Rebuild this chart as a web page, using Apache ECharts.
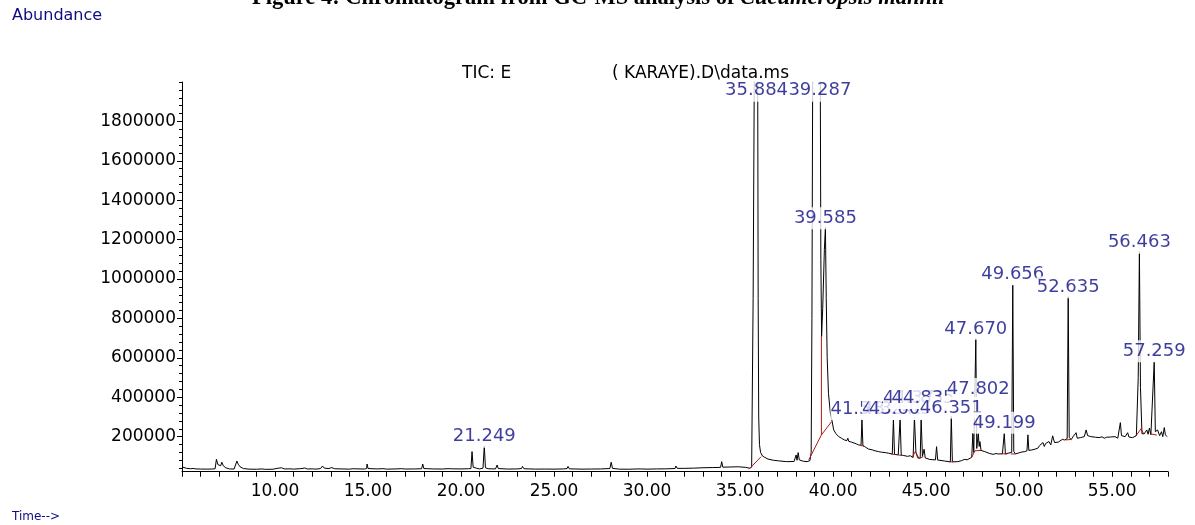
<!DOCTYPE html>
<html><head><meta charset="utf-8">
<script src="https://cdn.jsdelivr.net/npm/echarts@6/dist/echarts.min.js"></script>
<style>html,body{margin:0;padding:0;background:#fff}#c{width:1195px;height:525px}</style>
</head><body><div id="c"></div>
<script>
// ---- DATA ----
const trace = [
 [5.00,46000],[5.10,42000],[5.25,39000],[5.45,37000],[5.60,38500],[5.75,36000],[6.00,35500],[6.30,35000],[6.60,35500],[6.78,37000],
 [6.85,85000],[6.93,58000],[7.00,50000],[7.08,52000],[7.14,70000],[7.22,52000],[7.35,42000],[7.55,36000],[7.80,35500],[7.90,40000],
 [7.95,76000],[8.02,60000],[8.12,47000],[8.30,38000],[8.60,35000],[9.00,34500],[9.30,36000],[9.50,34000],[9.90,34500],[10.05,38000],
 [10.12,47000],[10.20,40000],[10.35,42000],[10.50,36000],[10.80,36500],[11.00,35000],[11.30,37000],[11.37,47000],[11.45,38000],[11.60,41000],
 [11.75,35500],[12.00,36500],[12.20,35000],[12.45,38000],[12.55,51000],[12.65,40000],[12.75,44000],[12.90,38000],[13.05,43000],[13.20,37000],
 [13.60,36000],[14.00,35000],[14.20,37000],[14.40,36500],[14.80,35500],[14.92,38000],[14.95,61000],[15.00,38000],[15.50,36000],[15.80,37500],
 [16.00,35000],[16.50,36000],[16.80,37500],[17.00,35500],[17.50,36000],[17.88,37000],[17.94,61000],[18.00,38000],[18.50,36000],[19.00,35500],
 [19.30,37500],[19.50,36500],[20.00,36000],[20.40,37000],[20.53,38000],[20.59,124000],[20.65,45000],[20.75,53000],[20.82,40000],[21.00,36000],
 [21.18,40000],[21.249,153000],[21.31,42000],[21.45,37000],[21.85,36000],[21.94,56000],[22.00,38000],[22.50,35500],[23.00,36000],[23.25,38000],
 [23.30,49000],[23.38,37000],[24.00,35000],[24.50,35500],[25.00,35000],[25.50,36000],[25.70,38000],[25.75,49000],[25.82,36500],[26.50,35000],
 [27.00,35500],[27.50,36000],[28.00,38000],[28.07,70000],[28.14,39000],[28.50,35000],[29.00,34500],[29.50,36000],[29.58,40000],[29.70,36000],
 [30.00,35000],[30.50,36000],[31.00,36500],[31.50,38000],[31.55,51000],[31.62,39000],[32.00,39000],[32.50,40000],[33.00,42000],[33.50,43000],
 [33.95,44000],[34.01,73000],[34.07,45000],[34.50,46000],[34.90,47000],[34.94,51000],[35.00,46000],[35.30,44000],[35.50,40000],[35.62,45000],
 [35.70,900000],[35.76,2000000],[35.82,2500000],[35.884,2700000],[35.94,2300000],[35.97,900000],[36.00,300000],[36.04,160000],[36.10,120000],[36.20,102000],
 [36.32,95000],[36.50,86000],[36.80,80000],[37.07,77000],[37.50,73000],[37.90,74000],[38.01,107000],[38.06,80000],[38.12,119000],[38.18,82000],
 [38.40,75000],[38.60,73000],[38.75,78000],[38.82,120000],[38.86,800000],[38.90,2000000],[38.95,2600000],[39.10,2800000],[39.25,2700000],[39.30,2300000],
 [39.34,1100000],[39.38,708000],[39.44,850000],[39.53,1150000],[39.585,1264000],[39.63,900000],[39.68,600000],[39.75,420000],[39.85,320000],[39.92,290000],
 [40.03,234000],[40.15,215000],[40.30,200000],[40.45,192000],[40.60,183000],[40.74,180000],[40.79,192000],[40.84,176000],[41.00,172000],[41.10,168000],
 [41.25,163000],[41.37,158000],[41.50,156000],[41.55,288500],[41.60,155000],[41.75,146000],[41.90,137000],[42.00,145000],[42.10,133000],[42.25,128000],
 [42.44,124000],[42.53,130000],[42.60,121000],[42.80,119000],[42.97,116000],[43.18,112000],[43.24,290000],[43.30,110000],[43.50,107000],[43.55,110000],
 [43.60,293600],[43.66,106000],[43.80,104000],[44.00,100000],[44.15,103000],[44.30,94000],[44.37,298600],[44.45,120000],[44.55,92000],[44.68,90000],
 [44.73,293600],[44.80,100000],[44.89,136000],[44.95,92000],[45.20,84000],[45.50,82000],[45.56,149000],[45.62,81000],[45.80,79000],[46.00,76000],
 [46.30,72000],[46.351,301700],[46.41,72000],[46.70,73000],[46.90,78000],[47.08,85000],[47.20,82000],[47.30,90000],[47.45,95000],[47.51,217000],
 [47.56,120000],[47.62,130000],[47.67,697000],[47.72,140000],[47.76,130000],[47.802,217000],[47.85,150000],[47.89,175000],[47.95,130000],[48.15,124000],
 [48.25,128000],[48.40,115000],[48.60,110000],[48.75,114000],[48.87,112000],[49.10,113000],[49.199,218000],[49.26,112000],[49.40,116000],[49.50,110000],
 [49.60,120000],[49.656,970000],[49.71,125000],[49.80,112000],[50.00,118000],[50.15,122000],[50.30,124000],[50.42,128000],[50.47,209000],[50.52,130000],
 [50.65,132000],[50.80,135000],[50.90,142000],[51.00,141000],[51.10,155000],[51.20,150000],[51.28,170000],[51.35,150000],[51.42,165000],[51.50,160000],
 [51.60,175000],[51.70,158000],[51.80,204000],[51.90,170000],[52.00,180000],[52.10,172000],[52.20,176000],[52.32,186000],[52.44,183000],[52.58,190000],
 [52.635,911000],[52.69,195000],[52.80,185000],[52.88,198000],[52.95,190000],[53.06,220000],[53.12,192000],[53.20,200000],[53.30,195000],[53.40,205000],
 [53.50,200000],[53.60,234000],[53.68,205000],[53.78,208000],[53.85,200000],[53.95,205000],[54.10,197000],[54.20,202000],[54.30,195000],[54.45,199000],
 [54.58,192000],[54.70,197000],[54.80,190000],[54.90,198000],[55.00,195000],[55.15,200000],[55.30,192000],[55.40,200000],[55.44,271000],[55.50,205000],
 [55.60,198000],[55.70,200000],[55.83,220000],[55.90,198000],[56.00,203000],[56.10,195000],[56.20,200000],[56.30,205000],[56.40,500000],[56.463,1140000],
 [56.52,450000],[56.60,215000],[56.72,214000],[56.86,234000],[56.93,212000],[57.00,243000],[57.08,210000],[57.18,220000],[57.259,580000],[57.32,225000],
 [57.44,234000],[57.55,205000],[57.65,225000],[57.72,200000],[57.80,246000],[57.86,209000],[57.95,200000]
];
// integration baselines (red)
const baselines = [
 [[35.48,34500],[36.13,98500]],
 [[38.69,81800],[39.37,208700],[39.92,276300]],
 [[39.37,208700],[39.37,708000]],
 [[41.45,156000],[41.70,150000]],
 [[43.10,112000],[43.35,109000]],
 [[43.50,107000],[43.75,104000]],
 [[44.25,95000],[44.42,125000],[44.60,92000]],
 [[44.65,91000],[44.85,98000]],
 [[46.25,72000],[46.45,72000]],
 [[47.45,95000],[47.62,128000],[47.95,130000]],
 [[49.05,113000],[49.35,112000]],
 [[49.55,112000],[49.80,112000]],
 [[52.50,183000],[52.80,186000]],
 [[56.25,200000],[56.55,240000],[56.70,214000]],
 [[57.05,214000],[57.40,208000]]
];
const peakLabels = ['21.249','35.884','39.287','39.585','41.548','43.246','43.605','44.371','44.835','46.351','47.670','47.802','49.199','49.656','52.635','56.463','57.259'];
const labelLevels = [200000,1956000,1956000,1309000,340800,340800,340800,396700,396700,346000,747000,442000,270000,1024000,958000,1184000,634000];
const xTickValues = [5,6,7,8,9,10,11,12,13,14,15,16,17,18,19,20,21,22,23,24,25,26,27,28,29,30,31,32,33,34,35,36,37,38,39,40,41,42,43,44,45,46,47,48,49,50,51,52,53,54,55,56,57,58];
const xLabelValues = [10,15,20,25,30,35,40,45,50,55];
const yLabelValues = [200000,400000,600000,800000,1000000,1200000,1400000,1600000,1800000];
const yMinorStep = 40000;

// ---- CHART ----
const yMinor = [];
for (let v = yMinorStep; v <= 2000000; v += yMinorStep) yMinor.push(v);
const navy = '#0c0c86';
const numFont = 'DejaVu Sans';

const series = [{
  type: 'line', data: trace, showSymbol: false, symbol: 'none',
  lineStyle: { color: '#000', width: 1 }, z: 2, clip: true, animation: false
}];
baselines.forEach(seg => series.push({
  type: 'line', data: seg, showSymbol: false, symbol: 'none',
  lineStyle: { color: '#b01818', width: 1 }, z: 3, clip: true, animation: false
}));
series.push({
  type: 'scatter', symbolSize: 0, z: 10, animation: false,
  data: peakLabels.map((t, i) => ({ name: t, value: [parseFloat(t), labelLevels[i]] })),
  label: {
    show: true, position: 'inside', formatter: '{b}', color: navy,
    fontFamily: numFont, fontSize: 18, backgroundColor: '#fff', padding: [3, 0, 1, 0]
  }
});

const chart = echarts.init(document.getElementById('c'), null, { renderer: 'canvas' });
chart.setOption({
  animation: false,
  backgroundColor: '#fff',
  grid: { left: 182, top: 82, right: 27, bottom: 53.3, containLabel: false },
  xAxis: {
    type: 'value', min: 5, max: 58,
    axisLine: { show: true, lineStyle: { color: '#000', width: 1 } },
    axisTick: { show: true, length: 5, customValues: xTickValues, lineStyle: { color: '#000' } },
    axisLabel: { customValues: xLabelValues, formatter: v => v.toFixed(2), margin: 11,
      color: '#000', fontFamily: numFont, fontSize: 17 },
    splitLine: { show: false }
  },
  yAxis: [{
    type: 'value', min: 22000, max: 2000000, position: 'left',
    axisLine: { show: true, lineStyle: { color: '#000', width: 1 } },
    axisTick: { show: true, length: 5, customValues: yLabelValues, lineStyle: { color: '#000' } },
    axisLabel: { customValues: yLabelValues, formatter: v => String(v), margin: 6,
      color: '#000', fontFamily: numFont, fontSize: 17 },
    splitLine: { show: false }
  }, {
    type: 'value', min: 22000, max: 2000000, position: 'left',
    axisLine: { show: false },
    axisTick: { show: true, length: 3, customValues: yMinor, lineStyle: { color: '#000' } },
    axisLabel: { show: false },
    splitLine: { show: false }
  }],
  graphic: [
    { type: 'text', x: 252, y: 10, silent: true, style: {
      text: '{b|Figure 4: Chromatogram from GC-MS analysis of }{i|Cucumeropsis mannii}',
      verticalAlign: 'bottom',
      rich: {
        b: { fontFamily: 'Liberation Serif', fontWeight: 'bold', fontSize: 22.5, fill: '#000' },
        i: { fontFamily: 'Liberation Serif', fontWeight: 'bold', fontStyle: 'italic', fontSize: 22.5, fill: '#000' }
      } } },
    { type: 'text', x: 12, y: 16, silent: true, style: { text: 'Abundance', fill: navy,
      font: '16px "DejaVu Sans"', verticalAlign: 'middle' } },
    { type: 'text', x: 12, y: 517, silent: true, style: { text: 'Time-->', fill: navy,
      font: '12px "DejaVu Sans"', verticalAlign: 'middle' } },
    { type: 'text', x: 462, y: 74, silent: true, style: { text: 'TIC: E', fill: '#000',
      font: '17px "DejaVu Sans"', verticalAlign: 'middle' } },
    { type: 'text', x: 612, y: 74, silent: true, style: { text: '( KARAYE).D\\data.ms', fill: '#000',
      font: '17px "DejaVu Sans"', verticalAlign: 'middle' } }
  ],
  series: series
});
</script>
</body></html>
